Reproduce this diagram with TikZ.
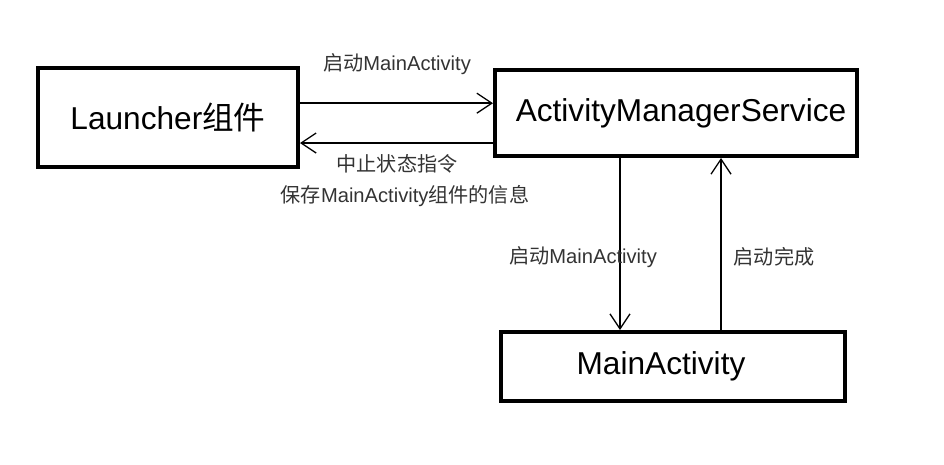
\documentclass[tikz,border=0pt]{standalone}
\usepackage{fontspec}
\setmainfont{Liberation Sans}
\newfontfamily\cjk{Noto Sans CJK SC}
\usepackage{tikz}
\usetikzlibrary{arrows.meta}
\tikzstyle{box} = [rectangle, draw=black, line width=3.4pt, text centered, font=\fontsize{27}{31}\selectfont]
\tikzstyle{arrow} = [line width=1.3pt, -{Straight Barb[length=4.5mm, width=6mm, line width=1.1pt]}]
\tikzstyle{lbl} = [font=\fontsize{17.2}{20}\selectfont, text=black!80]

\begin{document}
\begin{tikzpicture}[x=0.03cm, y=-0.03cm]
                    \useasboundingbox (0, 0) rectangle (944, 464);
                    \node [box, minimum width=7.8cm, minimum height=2.97cm] (launcher) at (168, 117.5) {Launcher{\cjk 组件}};
                    \node [box, minimum width=10.86cm, minimum height=2.58cm] (ams) at (676, 113) {\hspace*{0.3cm}ActivityManagerService};
                    \node [box, minimum width=10.32cm, minimum height=2.07cm] (main) at (673, 366.5) {MainActivity\hspace*{0.72cm}};
                    \draw [arrow] ([yshift=0.43cm]launcher.east) -- ([yshift=0.43cm]launcher.east -| ams.west);
                    \draw [arrow] ([yshift=-0.9cm]ams.west) -- ([yshift=-0.9cm]ams.west -| launcher.east);
                    \draw [arrow] ([xshift=-1.68cm]ams.south) -- ([xshift=-1.68cm]ams.south |- main.north);
                    \draw [arrow] ([xshift=1.44cm]main.north) -- ([xshift=1.44cm]main.north |- ams.south);
                    \draw node [lbl] (l1) at (397, 64) {{\cjk 启动}MainActivity};
                    \draw node [lbl] (l2) at (397, 164) {\cjk 中止状态指令};
                    \draw node [lbl] (l3) at (405, 196) {{\cjk 保存}MainActivity{\cjk 组件的信息}};
                    \draw node [lbl] (l4) at (583, 257) {{\cjk 启动}MainActivity};
                    \draw node [lbl] (l5) at (774, 257) {\cjk 启动完成};
                \end{tikzpicture}
\end{document}
